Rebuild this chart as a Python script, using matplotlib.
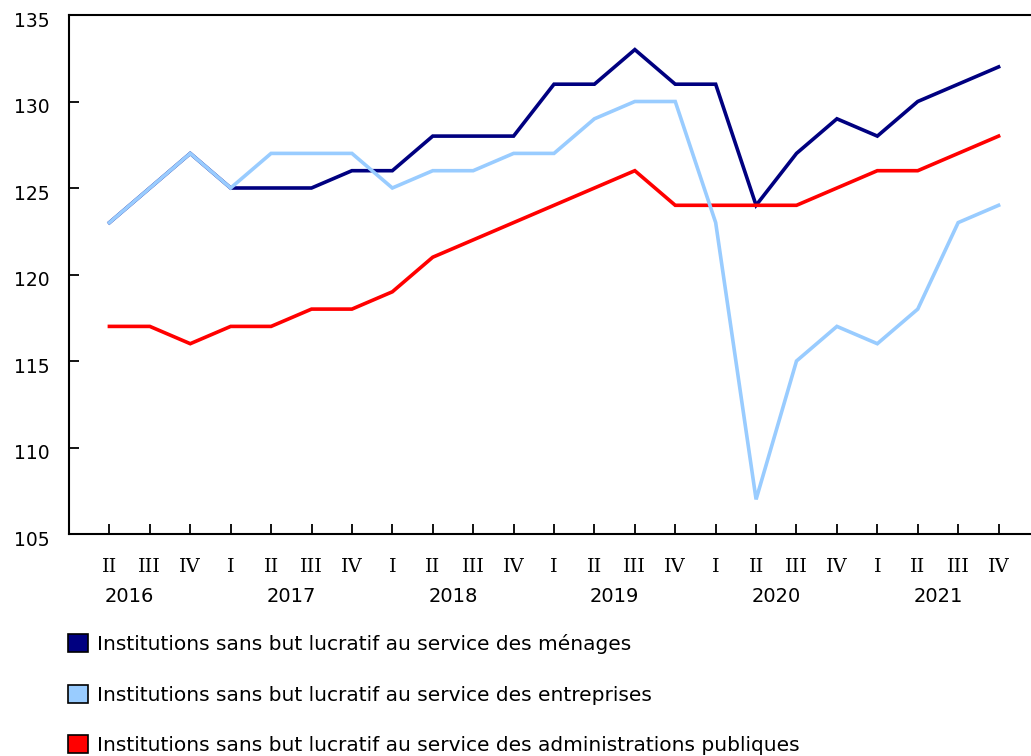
import matplotlib
matplotlib.use("Agg")
import matplotlib.pyplot as plt
import matplotlib.transforms as mtransforms
from matplotlib.patches import Patch

quarters = ["II", "III", "IV",
            "I", "II", "III", "IV",
            "I", "II", "III", "IV",
            "I", "II", "III", "IV",
            "I", "II", "III", "IV",
            "I", "II", "III", "IV"]
years = ["2016", "2017", "2018", "2019", "2020", "2021"]

menages = [123, 125, 127, 125, 125, 125, 126, 126, 128, 128, 128,
           131, 131, 133, 131, 131, 124, 127, 129, 128, 130, 131, 132]
entreprises = [123, 125, 127, 125, 127, 127, 127, 125, 126, 126, 127,
               127, 129, 130, 130, 123, 107, 115, 117, 116, 118, 123, 124]
administrations = [117, 117, 116, 117, 117, 118, 118, 119, 121, 122, 123,
                   124, 125, 126, 124, 124, 124, 124, 125, 126, 126, 127, 128]

labels = ["Institutions sans but lucratif au service des ménages",
          "Institutions sans but lucratif au service des entreprises",
          "Institutions sans but lucratif au service des administrations publiques"]
colors = ["#000080", "#99CCFF", "#FF0000"]

W, H = 1031, 756
fig = plt.figure(figsize=(W / 100, H / 100), dpi=100)
# axes: left spine x=69, bottom y=534, top y=15, right edge beyond figure
left, right, top, bottom = 69, 1039, 15, 534
ax = fig.add_axes([left / W, 1 - bottom / H, (right - left) / W, (bottom - top) / H])

x = list(range(len(quarters)))
ax.plot(x, menages, color=colors[0], lw=2.6, solid_joinstyle="miter", zorder=3)
ax.plot(x, administrations, color=colors[2], lw=2.6, solid_joinstyle="miter", zorder=4)
ax.plot(x, entreprises, color=colors[1], lw=2.6, solid_joinstyle="miter", zorder=5)

ax.set_xlim(-1, len(quarters))
ax.set_ylim(105, 135)
ax.set_yticks([105, 110, 115, 120, 125, 130, 135])
ax.tick_params(axis="y", direction="in", length=7, width=1.3, pad=14, labelsize=13.5)
ax.set_xticks(x)
ax.set_xticklabels(quarters, fontfamily="DejaVu Serif", fontsize=14)
ax.tick_params(axis="x", direction="in", length=7.5, width=1.3, pad=17.5)

for lab in ax.get_yticklabels():
    lab.set_transform(lab.get_transform() + mtransforms.ScaledTranslation(0, -3 / 72, fig.dpi_scale_trans))

for s in ["left", "bottom", "top"]:
    ax.spines[s].set_linewidth(1.5)
ax.spines["right"].set_visible(False)

# year labels centred on each year (2016 positioned as if quarter I present)
trans = mtransforms.blended_transform_factory(ax.transData, fig.transFigure)
year_start = -1
for i, yr in enumerate(years):
    xc = year_start + 4 * i + 1.5
    ax.text(xc, 1 - 597 / H, yr, transform=trans, ha="center", va="center", fontsize=14)

handles = [Patch(facecolor=c, edgecolor="black", linewidth=1.2) for c in colors]
fig.legend(handles, labels, loc="upper left", bbox_to_anchor=(68 / W, 1 - 634 / H),
           frameon=False, fontsize=14.5, handlelength=1.0, handleheight=1.0,
           handletextpad=0.45, labelspacing=1.52, borderaxespad=0, borderpad=0)

fig.savefig("out.png", dpi=100)
